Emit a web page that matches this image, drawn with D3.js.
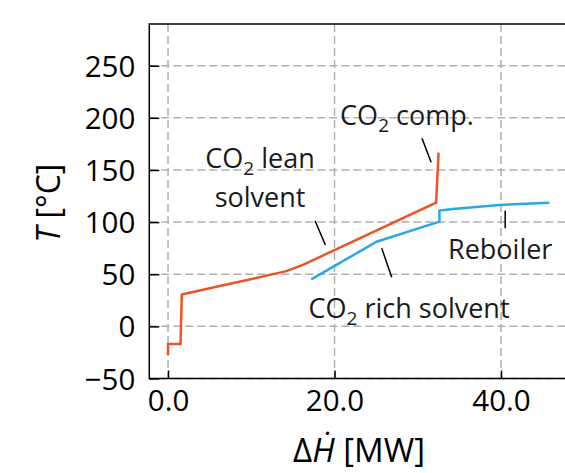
<!DOCTYPE html>
<html>
<head>
<meta charset="utf-8">
<script src="https://cdn.jsdelivr.net/npm/d3@7"></script>
<style>
  body { margin: 0; background: #fff; }
  svg { font-family: "Open Sans", Lato, sans-serif; }
</style>
</head>
<body>
<div id="chart"></div>
<script>
// hot stream: CO2 lean solvent + CO2 compression
var hotH = [0.0, 0.0, 1.5, 1.65, 6.2, 9.8, 14.2, 16.2, 32.2, 32.5];
var hotT = [-27.5, -17, -17, 30.5, 38.7, 45, 53, 59, 118.6, 166.6];
// cold stream: CO2 rich solvent + reboiler
var coldH = [17.2, 25.05, 32.6, 32.6, 34.2, 39.8, 45.8];
var coldT = [45, 81.2, 100.4, 111, 112.6, 116.4, 118.6];

var xTicks = [0, 20, 40];
var yTicks = [-50, 0, 50, 100, 150, 200, 250];

var width = 565, height = 473;
var plotLeft = 149.3, plotRight = 571.8, plotTop = 24, plotBottom = 378.5;

var xScale = d3.scaleLinear().domain([-2.25, 48.5]).range([plotLeft, plotRight]);
var yScale = d3.scaleLinear().domain([-50, 290]).range([plotBottom, plotTop]);

var svg = d3.select("#chart").append("svg")
    .attr("width", width)
    .attr("height", height);

// grid
svg.append("g").selectAll("line")
    .data(xTicks).enter().append("line")
    .attr("x1", d => xScale(d)).attr("x2", d => xScale(d))
    .attr("y1", plotTop).attr("y2", plotBottom)
    .attr("style", "stroke: #b0b0b0; stroke-width: 1.5; stroke-dasharray: 8,4;");
svg.append("g").selectAll("line")
    .data(yTicks).enter().append("line")
    .attr("y1", d => yScale(d)).attr("y2", d => yScale(d))
    .attr("x1", plotLeft).attr("x2", width + 10)
    .attr("style", "stroke: #b0b0b0; stroke-width: 1.5; stroke-dasharray: 8,4;");

// axes, ticks pointing inwards
var xAxis = svg.append("g")
    .attr("transform", "translate(0," + plotBottom + ")")
    .call(d3.axisBottom(xScale).tickValues(xTicks).tickFormat(d3.format(".1f"))
        .tickSizeInner(-8).tickSizeOuter(0).tickPadding(12));
var yAxis = svg.append("g")
    .attr("transform", "translate(" + plotLeft + ",0)")
    .call(d3.axisLeft(yScale).tickValues(yTicks)
        .tickSizeInner(-10).tickSizeOuter(0).tickPadding(14));

[xAxis, yAxis].forEach(ax => {
    ax.select(".domain").remove();
    ax.selectAll(".tick line").attr("stroke", "#000").attr("stroke-width", 1.5);
    ax.selectAll(".tick text").attr("fill", "#000")
        .attr("font-size", 29.5).attr("font-family", "'Open Sans', sans-serif");
});
yAxis.selectAll(".tick text").attr("dy", "0.36em");

// spines
svg.append("path")
    .attr("d", "M" + (width + 10) + "," + plotTop + "H" + plotLeft + "V" + plotBottom + "H" + (width + 10))
    .attr("style", "fill: none; stroke: #000; stroke-width: 1.5;");

// curves
var line = d3.line()
    .x(d => xScale(d[0]))
    .y(d => yScale(d[1]));

svg.append("path")
    .datum(d3.zip(coldH, coldT))
    .attr("d", line)
    .attr("style", "fill: none; stroke: #29a9e1; stroke-width: 2.5; stroke-linejoin: miter;");
svg.append("path")
    .datum(d3.zip(hotH, hotT))
    .attr("d", line)
    .attr("style", "fill: none; stroke: #ec5428; stroke-width: 2.5; stroke-linejoin: miter;");

// annotations (data coordinates)
var notes = [
    {lines: [["CO", "2", " comp."]], x: 28.7, y: 193, lx: [30.5, 31.6], ly: [180.4, 157.4]},
    {lines: [["CO", "2", " lean"], ["solvent"]], x: 11.05, y: 152, lx: [17.66, 18.9], ly: [101.3, 78]},
    {lines: [["CO", "2", " rich solvent"]], x: 28.95, y: 8, lx: [25.67, 26.87], ly: [74.9, 47]},
    {lines: [["Reboiler"]], x: 39.9, y: 64.3, lx: [40.5, 40.5], ly: [111, 94]}
];

notes.forEach(n => {
    svg.append("line")
        .attr("x1", xScale(n.lx[0])).attr("x2", xScale(n.lx[1]))
        .attr("y1", yScale(n.ly[0])).attr("y2", yScale(n.ly[1]))
        .attr("style", "stroke: #000; stroke-width: 1.5;");
    n.lines.forEach((parts, i) => {
        var t = svg.append("text")
            .attr("x", xScale(n.x))
            .attr("y", yScale(n.y) + i * 38.7)
            .attr("text-anchor", "middle")
            .attr("font-size", 27)
            .attr("fill", "#1a1a1a");
        if (parts.length === 1) {
            t.text(parts[0]);
        } else {
            t.append("tspan").text(parts[0]);
            t.append("tspan").attr("font-size", 19).attr("dy", 7).text(parts[1]);
            t.append("tspan").attr("dy", -7).text(parts[2]);
        }
    });
});

// axis labels
var xl = svg.append("text")
    .attr("x", 359)
    .attr("y", 461.7)
    .attr("text-anchor", "middle")
    .attr("font-size", 33);
xl.append("tspan").text("Δ");
xl.append("tspan").attr("font-style", "italic").text("Ḣ");
xl.append("tspan").text(" [MW]");

var yl = svg.append("text")
    .attr("transform", "translate(60," + ((plotTop + plotBottom) / 2 + 2) + ") rotate(-90)")
    .attr("text-anchor", "middle")
    .attr("font-size", 32);
yl.append("tspan").attr("font-style", "italic").text("T");
yl.append("tspan").text(" [°C]");
</script>
</body>
</html>
